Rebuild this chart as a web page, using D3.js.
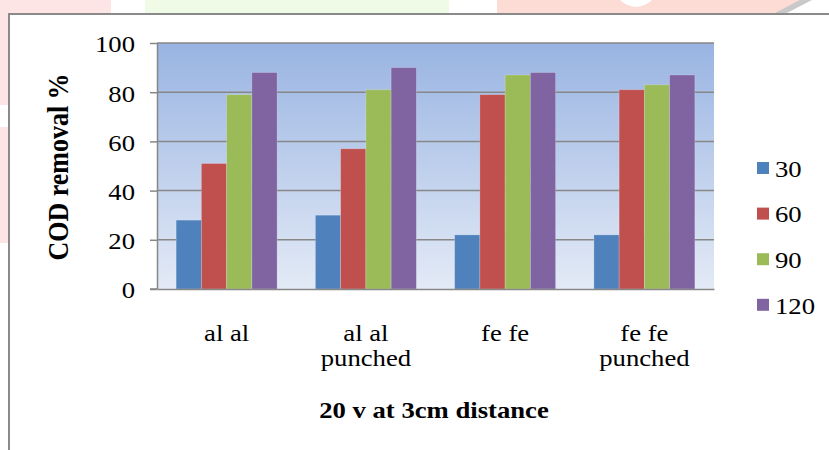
<!DOCTYPE html>
<html>
<head>
<meta charset="utf-8">
<script src="https://cdn.jsdelivr.net/npm/d3@7"></script>
<style>
  html, body { margin: 0; padding: 0; background: #fff; }
  svg { display: block; }
  text { font-family: "Liberation Serif", "Times New Roman", serif; fill: #000; }
</style>
</head>
<body>
<svg id="chart" width="829" height="450"></svg>
<script>
// Electrode pairs on the x axis
const categories = ["al al", "al al punched", "fe fe", "fe fe punched"];
// Series are treatment times
const seriesNames = ["30", "60", "90", "120"];
const seriesColors = ["#4F81BD", "#C0504D", "#9BBB59", "#8064A2"];
// COD removal % per series, in category order
const values30  = [28, 30, 22, 22];
const values60  = [51, 57, 79, 81];
const values90  = [79, 81, 87, 83];
const values120 = [88, 90, 88, 87];
const seriesValues = [values30, values60, values90, values120];
const yTicks = [0, 20, 40, 60, 80, 100];
const yTitle = "COD removal %";
const xTitle = "20 v at 3cm distance";

const svg = d3.select("#chart");
const stretch = 1.16; // glyphs are drawn a little wide

// faint page decoration behind the chart frame
const deco = svg.append("g");
deco.append("rect").attr("x", 0).attr("y", 0).attr("width", 111).attr("height", 14).attr("fill", "#fde5e5");
deco.append("rect").attr("x", 0).attr("y", 0).attr("width", 8).attr("height", 105).attr("fill", "#fde5e5");
deco.append("rect").attr("x", 0).attr("y", 127).attr("width", 8).attr("height", 116).attr("fill", "#fde5e5");
deco.append("rect").attr("x", 145).attr("y", 0).attr("width", 304).attr("height", 14).attr("fill", "#effae7");
deco.append("path")
  .attr("d", "M497,0 L620,0 Q636,14 652,0 L810,0 L777,14 L497,14 Z")
  .attr("fill", "#fddcd5");
deco.append("path")
  .attr("d", "M800,0 L812,0 L785,14 L773,14 Z")
  .attr("fill", "#c9c9c9");

// chart frame
svg.append("path")
  .attr("d", "M9,460 L9,14 L840,14")
  .attr("fill", "none").attr("stroke", "#8a8a8a").attr("stroke-width", 2);
svg.append("rect").attr("x", 10).attr("y", 15).attr("width", 830).attr("height", 450).attr("fill", "#fff");

const plot = { left: 157, right: 714, top: 43, bottom: 289 };

const y = d3.scaleLinear().domain([0, 100]).range([plot.bottom, plot.top]);
const x0 = d3.scaleBand().domain(categories).range([plot.left, plot.right])
  .paddingInner(0.275).paddingOuter(0.1375);
const x1 = d3.scaleBand().domain(seriesNames).range([0, x0.bandwidth()]);

// plot area gradient
const defs = svg.append("defs");
const grad = defs.append("linearGradient").attr("id", "plotBg")
  .attr("x1", 0).attr("y1", 0).attr("x2", 0).attr("y2", 1);
grad.append("stop").attr("offset", "0%").attr("stop-color", "#99B4E2");
grad.append("stop").attr("offset", "100%").attr("stop-color", "#E3EAF6");
svg.append("rect")
  .attr("x", plot.left).attr("y", plot.top)
  .attr("width", plot.right - plot.left).attr("height", plot.bottom - plot.top)
  .attr("fill", "url(#plotBg)");

// horizontal gridlines
svg.append("g").selectAll("line").data(yTicks.filter(d => d > 0)).join("line")
  .attr("x1", plot.left).attr("x2", plot.right)
  .attr("y1", d => y(d)).attr("y2", d => y(d))
  .attr("stroke", "#878787").attr("stroke-width", 1.5);

// bars
const groups = svg.append("g").selectAll("g").data(categories).join("g")
  .attr("transform", d => `translate(${x0(d)},0)`);
groups.selectAll("rect")
  .data((c, ci) => seriesNames.map((s, si) => ({ s, si, v: seriesValues[si][ci] })))
  .join("rect")
  .attr("x", d => x1(d.s))
  .attr("y", d => y(d.v))
  .attr("width", x1.bandwidth())
  .attr("height", d => y(0) - y(d.v))
  .attr("fill", d => seriesColors[d.si])
  .attr("stroke", "rgba(255,255,255,0.25)").attr("stroke-width", 0.8);

// y axis
const yAxis = svg.append("g").attr("transform", `translate(${plot.left},0)`)
  .call(d3.axisLeft(y).tickValues(yTicks).tickSize(7).tickSizeOuter(0).tickFormat(d3.format("d")));
yAxis.select(".domain").attr("stroke", "#878787").attr("stroke-width", 1.5);
yAxis.selectAll(".tick line").attr("stroke", "#878787").attr("stroke-width", 1.5);
yAxis.selectAll(".tick text").each(function () {
  const t = d3.select(this);
  t.attr("x", null).attr("dy", null)
    .attr("font-size", 23).attr("font-family", null)
    .attr("text-anchor", "end").attr("dominant-baseline", "central")
    .attr("transform", `translate(-22,1) scale(${stretch},1)`);
});
yAxis.attr("font-family", null);

// x axis baseline
const xAxis = svg.append("g").attr("transform", `translate(0,${plot.bottom})`)
  .call(d3.axisBottom(x0).tickSize(0).tickSizeOuter(0).tickFormat(""));
xAxis.select(".domain").attr("stroke", "#878787").attr("stroke-width", 1.5);
svg.append("line").attr("x1", plot.left - 7).attr("x2", plot.left)
  .attr("y1", plot.bottom).attr("y2", plot.bottom)
  .attr("stroke", "#878787").attr("stroke-width", 1.5);

// category labels, wrapped after the second word
categories.forEach(c => {
  const words = c.split(" ");
  const lines = [words.slice(0, 2).join(" ")];
  if (words.length > 2) lines.push(words.slice(2).join(" "));
  const cx = x0(c) + x0.bandwidth() / 2;
  lines.forEach((ln, i) => {
    svg.append("text")
      .attr("transform", `translate(${cx},${341 + i * 25}) scale(${stretch},1)`)
      .attr("text-anchor", "middle").attr("font-size", 23)
      .text(ln);
  });
});

// axis titles
svg.append("text")
  .attr("transform", `translate(434,418) scale(${stretch},1)`)
  .attr("text-anchor", "middle").attr("font-size", 23).attr("font-weight", "bold")
  .text(xTitle);
svg.append("text")
  .attr("transform", `translate(68,167) rotate(-90) scale(1,${stretch})`)
  .attr("text-anchor", "middle").attr("font-size", 26).attr("font-weight", "bold")
  .text(yTitle);

// legend
const legend = svg.append("g").selectAll("g").data(seriesNames).join("g")
  .attr("transform", (d, i) => `translate(757,${168 + i * 45.6})`);
legend.append("rect").attr("x", 0).attr("y", -6).attr("width", 12).attr("height", 12)
  .attr("fill", (d, i) => seriesColors[i]);
legend.append("text")
  .attr("transform", `translate(18,1) scale(${stretch},1)`)
  .attr("dominant-baseline", "central").attr("font-size", 23)
  .text(d => d);
</script>
</body>
</html>
